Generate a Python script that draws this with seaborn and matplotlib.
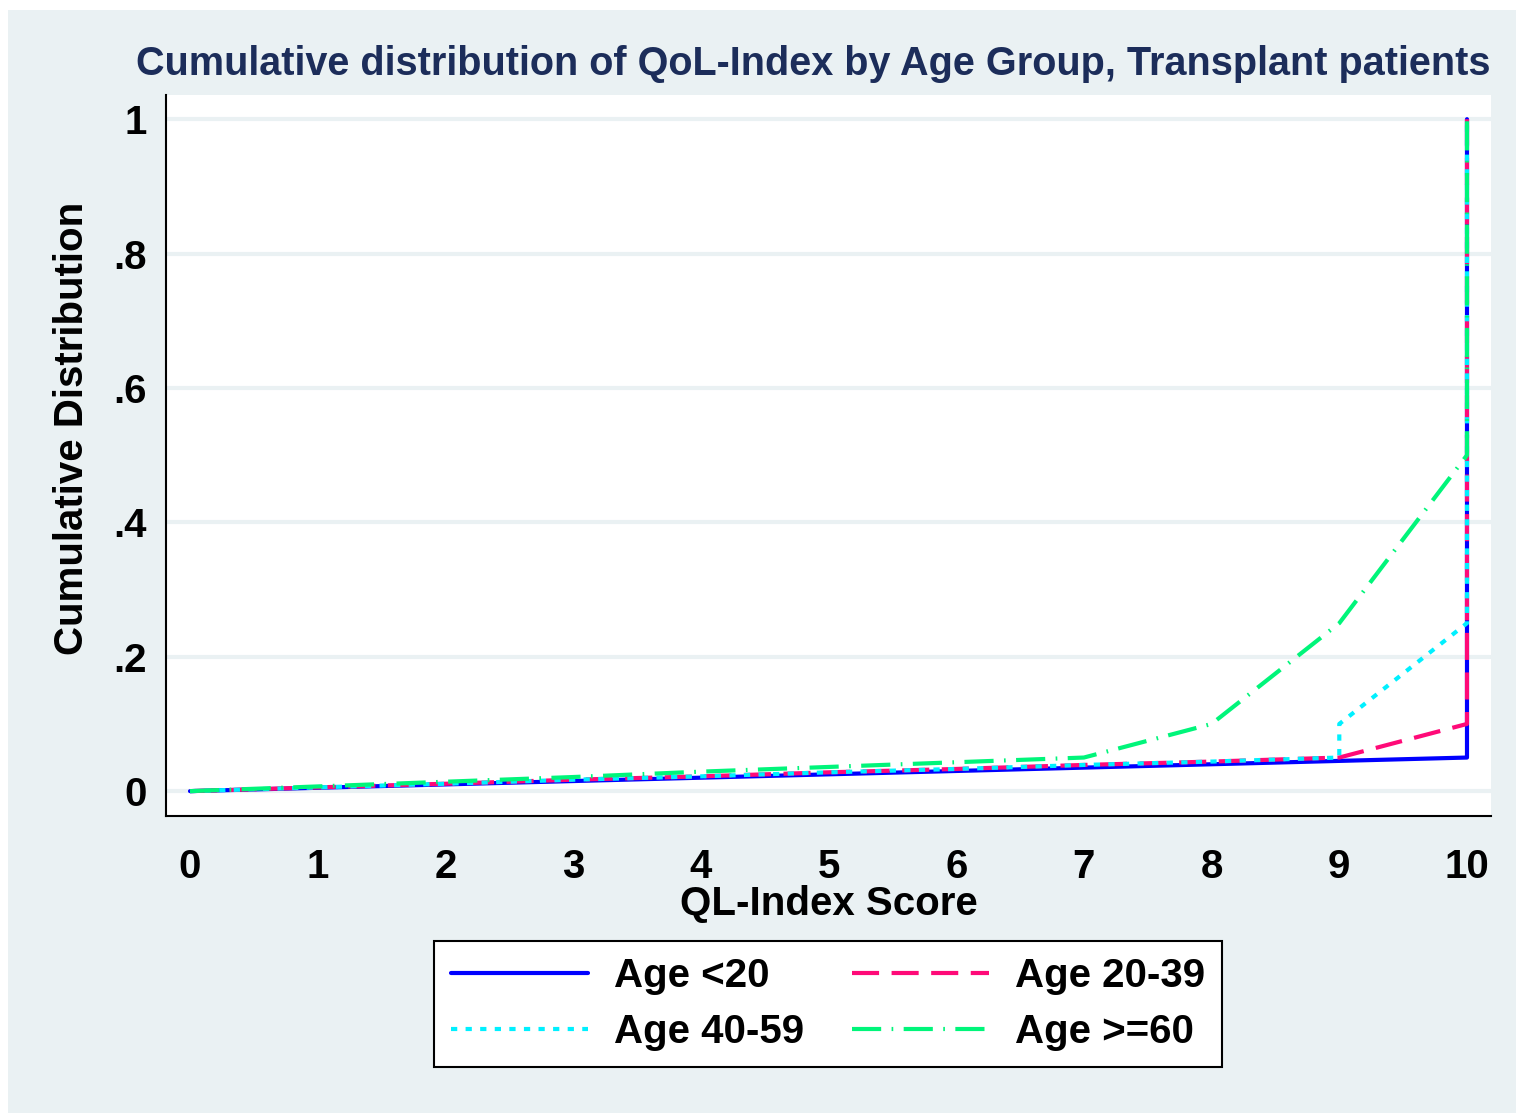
import pandas as pd
import matplotlib.pyplot as plt
import seaborn as sns
from matplotlib.patches import Rectangle

sns.set_style('white')
plt.rcParams['font.family'] = ['Liberation Sans', 'DejaVu Sans']
plt.rcParams['font.weight'] = 'bold'
plt.rcParams['text.color'] = 'black'
plt.rcParams['axes.labelcolor'] = 'black'
plt.rcParams['xtick.color'] = 'black'
plt.rcParams['ytick.color'] = 'black'

# cumulative distribution
groups = ['Age <20', 'Age 20-39', 'Age 40-59', 'Age >=60']
x_lt20 = [0, 1, 2, 3, 4, 5, 6, 7, 8, 9, 10, 10]
y_lt20 = [0, .005, .01, .015, .02, .025, .03, .035, .04, .045, .05, 1]
x_20_39 = [0, 1, 2, 3, 4, 5, 6, 7, 8, 9, 10, 10]
y_20_39 = [0, .0056, .011, .017, .022, .028, .033, .039, .044, .05, .1, 1]
x_40_59 = [0, 1, 2, 3, 4, 5, 6, 7, 8, 9, 9, 10, 10]
y_40_59 = [0, .0056, .011, .017, .022, .028, .033, .039, .044, .05, .1, .25, 1]
x_60 = [0, 1, 2, 3, 4, 5, 6, 7, 8, 9, 10, 10]
y_60 = [0, .007, .014, .021, .029, .036, .043, .05, .1, .25, .5, 1]

xs = [x_lt20, x_20_39, x_40_59, x_60]
ys = [y_lt20, y_20_39, y_40_59, y_60]
frames = []
for g, x, y in zip(groups, xs, ys):
    frames.append(pd.DataFrame({'score': x, 'cdf': y, 'group': g}))
df = pd.concat(frames, ignore_index=True)

colors = {'Age <20': '#0000ff', 'Age 20-39': '#ff0a78', 'Age 40-59': '#00f0ff', 'Age >=60': '#00f57a'}
dashes = {'Age <20': '', 'Age 20-39': (6.5, 3), 'Age 40-59': (1.5, 2), 'Age >=60': (7, 2.5, 0.4, 2.5)}

bg = '#eaf1f3'
fig = plt.figure(figsize=(15.16, 11.13), dpi=100, facecolor='white')
fig.patches.append(Rectangle((8 / 1516, 0), 1, 1 - 10 / 1113, transform=fig.transFigure,
                             facecolor=bg, edgecolor='none', zorder=-10))
ax = fig.add_axes([166 / 1516, 1 - 816 / 1113, 1325 / 1516, 721 / 1113])
ax.set_facecolor('white')

sns.lineplot(data=df, x='score', y='cdf', hue='group', style='group', units='group',
             palette=colors, dashes=dashes, estimator=None, sort=False,
             linewidth=3, legend=False, ax=ax)

ax.set_xlim(-0.188, 10.188)
ax.set_ylim(-0.037, 1.036)
ax.set_xticks(range(11))
ax.set_yticks([0, .2, .4, .6, .8, 1])
ax.set_yticklabels(['0', '.2', '.4', '.6', '.8', '1'])
for yv in [0, .2, .4, .6, .8, 1]:
    ax.axhline(yv, color=bg, lw=3, zorder=0)
ax.tick_params(axis='both', labelsize=29, width=1.5, color='black', direction='out')
ax.tick_params(axis='x', length=12, pad=11)
ax.tick_params(axis='y', length=8, pad=6)
for s in ['top', 'right']:
    ax.spines[s].set_visible(False)
for s in ['left', 'bottom']:
    ax.spines[s].set_color('black')
    ax.spines[s].set_linewidth(1.5)

ax.set_xlabel('QL-Index Score', fontsize=29, fontweight='bold', labelpad=-1)
ax.set_ylabel('Cumulative Distribution', fontsize=29, fontweight='bold')
ax.yaxis.set_label_coords(-0.0566, 0.538)
fig.text(813 / 1516, 1 - 64 / 1113, 'Cumulative distribution of QoL-Index by Age Group, Transplant patients',
         ha='center', va='center', fontsize=28.5, fontweight='bold', color='#1c2d5a')

lines = ax.get_lines()[:4]
order = [0, 2, 1, 3]
leg = fig.legend([lines[i] for i in order], [groups[i] for i in order], loc='center',
                 bbox_to_anchor=(828 / 1516, 1 - 1004 / 1113),
                 ncol=2, fontsize=29, frameon=True, fancybox=False, handlelength=3.4,
                 handletextpad=0.65, columnspacing=1.2, borderpad=0.4, labelspacing=0.45)
leg.get_frame().set_edgecolor('black')
leg.get_frame().set_linewidth(1.5)
leg.get_frame().set_facecolor('white')
leg.get_frame().set_alpha(1)

fig.savefig('out.png', dpi=100, facecolor=fig.get_facecolor())
